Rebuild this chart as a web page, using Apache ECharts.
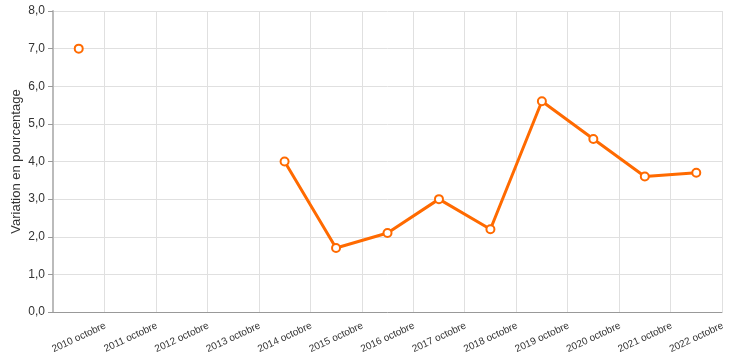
<!DOCTYPE html>
<html>
<head>
<meta charset="utf-8">
<script src="https://cdn.jsdelivr.net/npm/echarts@6/dist/echarts.min.js"></script>
<style>html,body{margin:0;padding:0;background:#fff;}#c{width:745px;height:362px;}</style>
</head>
<body>
<div id="c"></div>
<script>
const categories = ['2010 octobre','2011 octobre','2012 octobre','2013 octobre','2014 octobre','2015 octobre','2016 octobre','2017 octobre','2018 octobre','2019 octobre','2020 octobre','2021 octobre','2022 octobre'];
const values = [7.0, null, null, null, 4.0, 1.7, 2.1, 3.0, 2.2, 5.6, 4.6, 3.6, 3.7];
const yTitle = 'Variation en pourcentage';

const chart = echarts.init(document.getElementById('c'));
chart.setOption({
  animation: false,
  textStyle: {fontFamily: 'Liberation Sans, Arial, sans-serif'},
  grid: {left: 53, right: 23, top: 11, bottom: 50, containLabel: false, outerBoundsMode: 'none'},
  xAxis: {
    type: 'category',
    data: categories,
    boundaryGap: true,
    axisLine: {lineStyle: {color: '#999', width: 1}},
    axisTick: {alignWithLabel: false, length: 5, lineStyle: {color: '#999'}},
    axisLabel: {rotate: 25, color: '#333', fontSize: 10, interval: 0, margin: 8, align: 'right', verticalAlign: 'top', padding:[11,-22,0,0]},
    splitLine: {show: true, lineStyle: {color: '#e0e0e0'}}
  },
  yAxis: {
    type: 'value',
    min: 0, max: 8, interval: 1,
    name: yTitle,
    nameLocation: 'middle',
    nameGap: 30,
    nameMoveOverlap: false,
    nameTextStyle: {fontSize: 13, color: '#333'},
    axisLine: {show: true, lineStyle: {color: '#bbb', width: 2}},
    axisTick: {show: true, length: 5, lineStyle: {color: '#999'}},
    axisLabel: {color: '#333', fontSize: 12, margin: 8, formatter: v => v.toFixed(1).replace('.', ',')},
    splitLine: {lineStyle: {color: '#e0e0e0'}}
  },
  series: [{
    type: 'line',
    data: values,
    connectNulls: false,
    symbol: 'circle',
    symbolSize: 8,
    showAllSymbol: true,
    lineStyle: {color: '#ff6a00', width: 3},
    itemStyle: {color: '#fff', borderColor: '#ff6a00', borderWidth: 2}
  }]
});
</script>
</body>
</html>
